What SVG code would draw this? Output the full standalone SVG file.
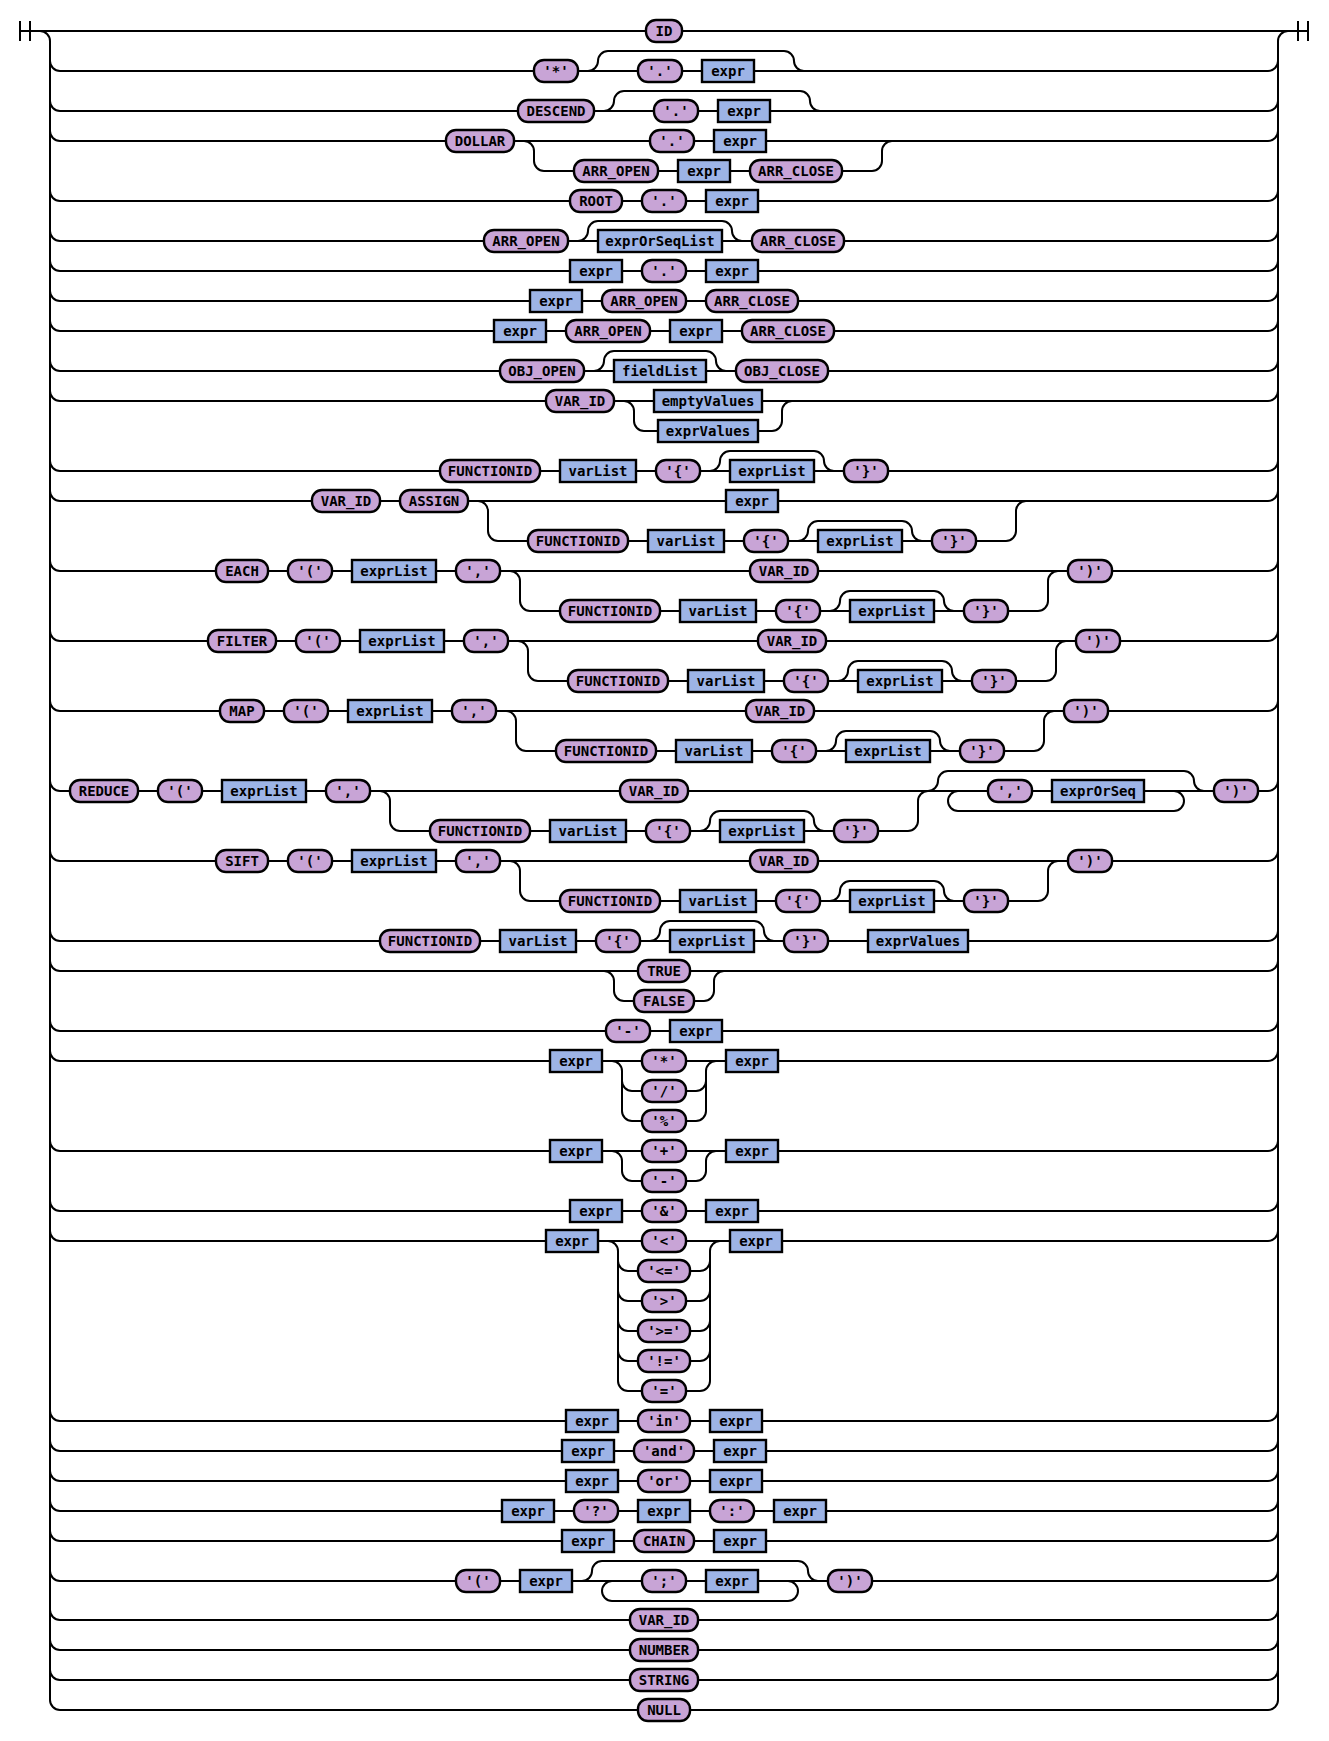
<svg xmlns="http://www.w3.org/2000/svg" width="1329" height="1741" viewBox="0 0 1329 1741">
<style>
.ln{fill:none;stroke:#000;stroke-width:2}
.t rect{fill:#C8A4D6;stroke:#000;stroke-width:2.4}
.n rect{fill:#9DB4E6;stroke:#000;stroke-width:2.4}
text{font-family:"DejaVu Sans Mono","Liberation Mono",monospace;font-weight:bold;font-size:14px;text-anchor:middle;fill:#000}
</style>
<rect width="1329" height="1741" fill="#fff"/>
<g id="connectors" class="ln">
<path d="M20 21v20M30 21v20M20 31H1308M1298 21v20M1308 21v20"/>
<path d="M40 31a10 10 0 0 1 10 10V1700M1278 1700V41a10 10 0 0 1 10 -10"/>
<path d="M50 61a10 10 0 0 0 10 10H1268a10 10 0 0 0 10 -10M50 101a10 10 0 0 0 10 10H1268a10 10 0 0 0 10 -10M50 131a10 10 0 0 0 10 10H1268a10 10 0 0 0 10 -10M50 191a10 10 0 0 0 10 10H1268a10 10 0 0 0 10 -10M50 231a10 10 0 0 0 10 10H1268a10 10 0 0 0 10 -10M50 261a10 10 0 0 0 10 10H1268a10 10 0 0 0 10 -10M50 291a10 10 0 0 0 10 10H1268a10 10 0 0 0 10 -10M50 321a10 10 0 0 0 10 10H1268a10 10 0 0 0 10 -10M50 361a10 10 0 0 0 10 10H1268a10 10 0 0 0 10 -10M50 391a10 10 0 0 0 10 10H1268a10 10 0 0 0 10 -10M50 461a10 10 0 0 0 10 10H1268a10 10 0 0 0 10 -10M50 491a10 10 0 0 0 10 10H1268a10 10 0 0 0 10 -10M50 561a10 10 0 0 0 10 10H1268a10 10 0 0 0 10 -10M50 631a10 10 0 0 0 10 10H1268a10 10 0 0 0 10 -10M50 701a10 10 0 0 0 10 10H1268a10 10 0 0 0 10 -10M50 781a10 10 0 0 0 10 10H1268a10 10 0 0 0 10 -10M50 851a10 10 0 0 0 10 10H1268a10 10 0 0 0 10 -10M50 931a10 10 0 0 0 10 10H1268a10 10 0 0 0 10 -10M50 961a10 10 0 0 0 10 10H1268a10 10 0 0 0 10 -10M50 1021a10 10 0 0 0 10 10H1268a10 10 0 0 0 10 -10M50 1051a10 10 0 0 0 10 10H1268a10 10 0 0 0 10 -10M50 1141a10 10 0 0 0 10 10H1268a10 10 0 0 0 10 -10M50 1201a10 10 0 0 0 10 10H1268a10 10 0 0 0 10 -10M50 1231a10 10 0 0 0 10 10H1268a10 10 0 0 0 10 -10M50 1411a10 10 0 0 0 10 10H1268a10 10 0 0 0 10 -10M50 1441a10 10 0 0 0 10 10H1268a10 10 0 0 0 10 -10M50 1471a10 10 0 0 0 10 10H1268a10 10 0 0 0 10 -10M50 1501a10 10 0 0 0 10 10H1268a10 10 0 0 0 10 -10M50 1531a10 10 0 0 0 10 10H1268a10 10 0 0 0 10 -10M50 1571a10 10 0 0 0 10 10H1268a10 10 0 0 0 10 -10M50 1610a10 10 0 0 0 10 10H1268a10 10 0 0 0 10 -10M50 1640a10 10 0 0 0 10 10H1268a10 10 0 0 0 10 -10M50 1670a10 10 0 0 0 10 10H1268a10 10 0 0 0 10 -10M50 1700a10 10 0 0 0 10 10H1268a10 10 0 0 0 10 -10"/>
<path d="M524 141a10 10 0 0 1 10 10V161a10 10 0 0 0 10 10H872a10 10 0 0 0 10 -10V151a10 10 0 0 1 10 -10"/>
<path d="M624 401a10 10 0 0 1 10 10V421a10 10 0 0 0 10 10H772a10 10 0 0 0 10 -10V411a10 10 0 0 1 10 -10"/>
<path d="M478 501a10 10 0 0 1 10 10V531a10 10 0 0 0 10 10H1006a10 10 0 0 0 10 -10V511a10 10 0 0 1 10 -10"/>
<path d="M510 571a10 10 0 0 1 10 10V601a10 10 0 0 0 10 10H1038a10 10 0 0 0 10 -10V581a10 10 0 0 1 10 -10"/>
<path d="M518 641a10 10 0 0 1 10 10V671a10 10 0 0 0 10 10H1046a10 10 0 0 0 10 -10V651a10 10 0 0 1 10 -10"/>
<path d="M506 711a10 10 0 0 1 10 10V741a10 10 0 0 0 10 10H1034a10 10 0 0 0 10 -10V721a10 10 0 0 1 10 -10"/>
<path d="M380 791a10 10 0 0 1 10 10V821a10 10 0 0 0 10 10H908a10 10 0 0 0 10 -10V801a10 10 0 0 1 10 -10"/>
<path d="M510 861a10 10 0 0 1 10 10V891a10 10 0 0 0 10 10H1038a10 10 0 0 0 10 -10V871a10 10 0 0 1 10 -10"/>
<path d="M604 971a10 10 0 0 1 10 10V991a10 10 0 0 0 10 10H704a10 10 0 0 0 10 -10V981a10 10 0 0 1 10 -10"/>
<path d="M612 1061a10 10 0 0 1 10 10V1081a10 10 0 0 0 10 10H696a10 10 0 0 0 10 -10V1071a10 10 0 0 1 10 -10M612 1061a10 10 0 0 1 10 10V1111a10 10 0 0 0 10 10H696a10 10 0 0 0 10 -10V1071a10 10 0 0 1 10 -10"/>
<path d="M612 1151a10 10 0 0 1 10 10V1171a10 10 0 0 0 10 10H696a10 10 0 0 0 10 -10V1161a10 10 0 0 1 10 -10"/>
<path d="M608 1241a10 10 0 0 1 10 10V1261a10 10 0 0 0 10 10H700a10 10 0 0 0 10 -10V1251a10 10 0 0 1 10 -10M608 1241a10 10 0 0 1 10 10V1291a10 10 0 0 0 10 10H700a10 10 0 0 0 10 -10V1251a10 10 0 0 1 10 -10M608 1241a10 10 0 0 1 10 10V1321a10 10 0 0 0 10 10H700a10 10 0 0 0 10 -10V1251a10 10 0 0 1 10 -10M608 1241a10 10 0 0 1 10 10V1351a10 10 0 0 0 10 10H700a10 10 0 0 0 10 -10V1251a10 10 0 0 1 10 -10M608 1241a10 10 0 0 1 10 10V1381a10 10 0 0 0 10 10H700a10 10 0 0 0 10 -10V1251a10 10 0 0 1 10 -10"/>
<path d="M588 71a10 10 0 0 0 10 -10a10 10 0 0 1 10 -10H784a10 10 0 0 1 10 10a10 10 0 0 0 10 10"/>
<path d="M604 111a10 10 0 0 0 10 -10a10 10 0 0 1 10 -10H800a10 10 0 0 1 10 10a10 10 0 0 0 10 10"/>
<path d="M578 241a10 10 0 0 0 10 -10a10 10 0 0 1 10 -10H722a10 10 0 0 1 10 10a10 10 0 0 0 10 10"/>
<path d="M594 371a10 10 0 0 0 10 -10a10 10 0 0 1 10 -10H706a10 10 0 0 1 10 10a10 10 0 0 0 10 10"/>
<path d="M710 471a10 10 0 0 0 10 -10a10 10 0 0 1 10 -10H814a10 10 0 0 1 10 10a10 10 0 0 0 10 10"/>
<path d="M798 541a10 10 0 0 0 10 -10a10 10 0 0 1 10 -10H902a10 10 0 0 1 10 10a10 10 0 0 0 10 10"/>
<path d="M830 611a10 10 0 0 0 10 -10a10 10 0 0 1 10 -10H934a10 10 0 0 1 10 10a10 10 0 0 0 10 10"/>
<path d="M838 681a10 10 0 0 0 10 -10a10 10 0 0 1 10 -10H942a10 10 0 0 1 10 10a10 10 0 0 0 10 10"/>
<path d="M826 751a10 10 0 0 0 10 -10a10 10 0 0 1 10 -10H930a10 10 0 0 1 10 10a10 10 0 0 0 10 10"/>
<path d="M700 831a10 10 0 0 0 10 -10a10 10 0 0 1 10 -10H804a10 10 0 0 1 10 10a10 10 0 0 0 10 10"/>
<path d="M928 791a10 10 0 0 0 10 -10a10 10 0 0 1 10 -10H1184a10 10 0 0 1 10 10a10 10 0 0 0 10 10"/>
<path d="M1174 791a10 10 0 0 1 10 10a10 10 0 0 1 -10 10H958a10 10 0 0 1 -10 -10a10 10 0 0 1 10 -10"/>
<path d="M830 901a10 10 0 0 0 10 -10a10 10 0 0 1 10 -10H934a10 10 0 0 1 10 10a10 10 0 0 0 10 10"/>
<path d="M650 941a10 10 0 0 0 10 -10a10 10 0 0 1 10 -10H754a10 10 0 0 1 10 10a10 10 0 0 0 10 10"/>
<path d="M582 1581a10 10 0 0 0 10 -10a10 10 0 0 1 10 -10H798a10 10 0 0 1 10 10a10 10 0 0 0 10 10"/>
<path d="M788 1581a10 10 0 0 1 10 10a10 10 0 0 1 -10 10H612a10 10 0 0 1 -10 -10a10 10 0 0 1 10 -10"/>
</g>
<g id="r01-ID" class="t"><rect x="646" y="20" width="36" height="22" rx="10"/><text x="664" y="36">ID</text></g>
<g id="r02-star" class="t"><rect x="534" y="60" width="44" height="22" rx="10"/><text x="556" y="76">'*'</text></g>
<g id="r02-dot" class="t"><rect x="638" y="60" width="44" height="22" rx="10"/><text x="660" y="76">'.'</text></g>
<g id="r02-expr" class="n"><rect x="702" y="60" width="52" height="22"/><text x="728" y="76">expr</text></g>
<g id="r03-DESCEND" class="t"><rect x="518" y="100" width="76" height="22" rx="10"/><text x="556" y="116">DESCEND</text></g>
<g id="r03-dot" class="t"><rect x="654" y="100" width="44" height="22" rx="10"/><text x="676" y="116">'.'</text></g>
<g id="r03-expr" class="n"><rect x="718" y="100" width="52" height="22"/><text x="744" y="116">expr</text></g>
<g id="r04-DOLLAR" class="t"><rect x="446" y="130" width="68" height="22" rx="10"/><text x="480" y="146">DOLLAR</text></g>
<g id="r04-dot" class="t"><rect x="650" y="130" width="44" height="22" rx="10"/><text x="672" y="146">'.'</text></g>
<g id="r04-expr" class="n"><rect x="714" y="130" width="52" height="22"/><text x="740" y="146">expr</text></g>
<g id="r04b-ARR_OPEN" class="t"><rect x="574" y="160" width="84" height="22" rx="10"/><text x="616" y="176">ARR_OPEN</text></g>
<g id="r04b-expr" class="n"><rect x="678" y="160" width="52" height="22"/><text x="704" y="176">expr</text></g>
<g id="r04b-ARR_CLOSE" class="t"><rect x="750" y="160" width="92" height="22" rx="10"/><text x="796" y="176">ARR_CLOSE</text></g>
<g id="r05-ROOT" class="t"><rect x="570" y="190" width="52" height="22" rx="10"/><text x="596" y="206">ROOT</text></g>
<g id="r05-dot" class="t"><rect x="642" y="190" width="44" height="22" rx="10"/><text x="664" y="206">'.'</text></g>
<g id="r05-expr" class="n"><rect x="706" y="190" width="52" height="22"/><text x="732" y="206">expr</text></g>
<g id="r06-ARR_OPEN" class="t"><rect x="484" y="230" width="84" height="22" rx="10"/><text x="526" y="246">ARR_OPEN</text></g>
<g id="r06-exprOrSeqList" class="n"><rect x="598" y="230" width="124" height="22"/><text x="660" y="246">exprOrSeqList</text></g>
<g id="r06-ARR_CLOSE" class="t"><rect x="752" y="230" width="92" height="22" rx="10"/><text x="798" y="246">ARR_CLOSE</text></g>
<g id="r07-expr1" class="n"><rect x="570" y="260" width="52" height="22"/><text x="596" y="276">expr</text></g>
<g id="r07-dot" class="t"><rect x="642" y="260" width="44" height="22" rx="10"/><text x="664" y="276">'.'</text></g>
<g id="r07-expr2" class="n"><rect x="706" y="260" width="52" height="22"/><text x="732" y="276">expr</text></g>
<g id="r08-expr" class="n"><rect x="530" y="290" width="52" height="22"/><text x="556" y="306">expr</text></g>
<g id="r08-ARR_OPEN" class="t"><rect x="602" y="290" width="84" height="22" rx="10"/><text x="644" y="306">ARR_OPEN</text></g>
<g id="r08-ARR_CLOSE" class="t"><rect x="706" y="290" width="92" height="22" rx="10"/><text x="752" y="306">ARR_CLOSE</text></g>
<g id="r09-expr1" class="n"><rect x="494" y="320" width="52" height="22"/><text x="520" y="336">expr</text></g>
<g id="r09-ARR_OPEN" class="t"><rect x="566" y="320" width="84" height="22" rx="10"/><text x="608" y="336">ARR_OPEN</text></g>
<g id="r09-expr2" class="n"><rect x="670" y="320" width="52" height="22"/><text x="696" y="336">expr</text></g>
<g id="r09-ARR_CLOSE" class="t"><rect x="742" y="320" width="92" height="22" rx="10"/><text x="788" y="336">ARR_CLOSE</text></g>
<g id="r10-OBJ_OPEN" class="t"><rect x="500" y="360" width="84" height="22" rx="10"/><text x="542" y="376">OBJ_OPEN</text></g>
<g id="r10-fieldList" class="n"><rect x="614" y="360" width="92" height="22"/><text x="660" y="376">fieldList</text></g>
<g id="r10-OBJ_CLOSE" class="t"><rect x="736" y="360" width="92" height="22" rx="10"/><text x="782" y="376">OBJ_CLOSE</text></g>
<g id="r11-VAR_ID" class="t"><rect x="546" y="390" width="68" height="22" rx="10"/><text x="580" y="406">VAR_ID</text></g>
<g id="r11-emptyValues" class="n"><rect x="654" y="390" width="108" height="22"/><text x="708" y="406">emptyValues</text></g>
<g id="r11-exprValues" class="n"><rect x="658" y="420" width="100" height="22"/><text x="708" y="436">exprValues</text></g>
<g id="r12-FUNCTIONID" class="t"><rect x="440" y="460" width="100" height="22" rx="10"/><text x="490" y="476">FUNCTIONID</text></g>
<g id="r12-varList" class="n"><rect x="560" y="460" width="76" height="22"/><text x="598" y="476">varList</text></g>
<g id="r12-lbrace" class="t"><rect x="656" y="460" width="44" height="22" rx="10"/><text x="678" y="476">'{'</text></g>
<g id="r12-exprList" class="n"><rect x="730" y="460" width="84" height="22"/><text x="772" y="476">exprList</text></g>
<g id="r12-rbrace" class="t"><rect x="844" y="460" width="44" height="22" rx="10"/><text x="866" y="476">'}'</text></g>
<g id="r13-VAR_ID" class="t"><rect x="312" y="490" width="68" height="22" rx="10"/><text x="346" y="506">VAR_ID</text></g>
<g id="r13-ASSIGN" class="t"><rect x="400" y="490" width="68" height="22" rx="10"/><text x="434" y="506">ASSIGN</text></g>
<g id="r13-expr" class="n"><rect x="726" y="490" width="52" height="22"/><text x="752" y="506">expr</text></g>
<g id="r13b-FUNCTIONID" class="t"><rect x="528" y="530" width="100" height="22" rx="10"/><text x="578" y="546">FUNCTIONID</text></g>
<g id="r13b-varList" class="n"><rect x="648" y="530" width="76" height="22"/><text x="686" y="546">varList</text></g>
<g id="r13b-lbrace" class="t"><rect x="744" y="530" width="44" height="22" rx="10"/><text x="766" y="546">'{'</text></g>
<g id="r13b-exprList" class="n"><rect x="818" y="530" width="84" height="22"/><text x="860" y="546">exprList</text></g>
<g id="r13b-rbrace" class="t"><rect x="932" y="530" width="44" height="22" rx="10"/><text x="954" y="546">'}'</text></g>
<g id="r14-EACH" class="t"><rect x="216" y="560" width="52" height="22" rx="10"/><text x="242" y="576">EACH</text></g>
<g id="r14-lparen" class="t"><rect x="288" y="560" width="44" height="22" rx="10"/><text x="310" y="576">'('</text></g>
<g id="r14-exprList" class="n"><rect x="352" y="560" width="84" height="22"/><text x="394" y="576">exprList</text></g>
<g id="r14-comma" class="t"><rect x="456" y="560" width="44" height="22" rx="10"/><text x="478" y="576">','</text></g>
<g id="r14-VAR_ID" class="t"><rect x="750" y="560" width="68" height="22" rx="10"/><text x="784" y="576">VAR_ID</text></g>
<g id="r14-rparen" class="t"><rect x="1068" y="560" width="44" height="22" rx="10"/><text x="1090" y="576">')'</text></g>
<g id="r14b-FUNCTIONID" class="t"><rect x="560" y="600" width="100" height="22" rx="10"/><text x="610" y="616">FUNCTIONID</text></g>
<g id="r14b-varList" class="n"><rect x="680" y="600" width="76" height="22"/><text x="718" y="616">varList</text></g>
<g id="r14b-lbrace" class="t"><rect x="776" y="600" width="44" height="22" rx="10"/><text x="798" y="616">'{'</text></g>
<g id="r14b-exprList" class="n"><rect x="850" y="600" width="84" height="22"/><text x="892" y="616">exprList</text></g>
<g id="r14b-rbrace" class="t"><rect x="964" y="600" width="44" height="22" rx="10"/><text x="986" y="616">'}'</text></g>
<g id="r15-FILTER" class="t"><rect x="208" y="630" width="68" height="22" rx="10"/><text x="242" y="646">FILTER</text></g>
<g id="r15-lparen" class="t"><rect x="296" y="630" width="44" height="22" rx="10"/><text x="318" y="646">'('</text></g>
<g id="r15-exprList" class="n"><rect x="360" y="630" width="84" height="22"/><text x="402" y="646">exprList</text></g>
<g id="r15-comma" class="t"><rect x="464" y="630" width="44" height="22" rx="10"/><text x="486" y="646">','</text></g>
<g id="r15-VAR_ID" class="t"><rect x="758" y="630" width="68" height="22" rx="10"/><text x="792" y="646">VAR_ID</text></g>
<g id="r15-rparen" class="t"><rect x="1076" y="630" width="44" height="22" rx="10"/><text x="1098" y="646">')'</text></g>
<g id="r15b-FUNCTIONID" class="t"><rect x="568" y="670" width="100" height="22" rx="10"/><text x="618" y="686">FUNCTIONID</text></g>
<g id="r15b-varList" class="n"><rect x="688" y="670" width="76" height="22"/><text x="726" y="686">varList</text></g>
<g id="r15b-lbrace" class="t"><rect x="784" y="670" width="44" height="22" rx="10"/><text x="806" y="686">'{'</text></g>
<g id="r15b-exprList" class="n"><rect x="858" y="670" width="84" height="22"/><text x="900" y="686">exprList</text></g>
<g id="r15b-rbrace" class="t"><rect x="972" y="670" width="44" height="22" rx="10"/><text x="994" y="686">'}'</text></g>
<g id="r16-MAP" class="t"><rect x="220" y="700" width="44" height="22" rx="10"/><text x="242" y="716">MAP</text></g>
<g id="r16-lparen" class="t"><rect x="284" y="700" width="44" height="22" rx="10"/><text x="306" y="716">'('</text></g>
<g id="r16-exprList" class="n"><rect x="348" y="700" width="84" height="22"/><text x="390" y="716">exprList</text></g>
<g id="r16-comma" class="t"><rect x="452" y="700" width="44" height="22" rx="10"/><text x="474" y="716">','</text></g>
<g id="r16-VAR_ID" class="t"><rect x="746" y="700" width="68" height="22" rx="10"/><text x="780" y="716">VAR_ID</text></g>
<g id="r16-rparen" class="t"><rect x="1064" y="700" width="44" height="22" rx="10"/><text x="1086" y="716">')'</text></g>
<g id="r16b-FUNCTIONID" class="t"><rect x="556" y="740" width="100" height="22" rx="10"/><text x="606" y="756">FUNCTIONID</text></g>
<g id="r16b-varList" class="n"><rect x="676" y="740" width="76" height="22"/><text x="714" y="756">varList</text></g>
<g id="r16b-lbrace" class="t"><rect x="772" y="740" width="44" height="22" rx="10"/><text x="794" y="756">'{'</text></g>
<g id="r16b-exprList" class="n"><rect x="846" y="740" width="84" height="22"/><text x="888" y="756">exprList</text></g>
<g id="r16b-rbrace" class="t"><rect x="960" y="740" width="44" height="22" rx="10"/><text x="982" y="756">'}'</text></g>
<g id="r17-REDUCE" class="t"><rect x="70" y="780" width="68" height="22" rx="10"/><text x="104" y="796">REDUCE</text></g>
<g id="r17-lparen" class="t"><rect x="158" y="780" width="44" height="22" rx="10"/><text x="180" y="796">'('</text></g>
<g id="r17-exprList" class="n"><rect x="222" y="780" width="84" height="22"/><text x="264" y="796">exprList</text></g>
<g id="r17-comma" class="t"><rect x="326" y="780" width="44" height="22" rx="10"/><text x="348" y="796">','</text></g>
<g id="r17-VAR_ID" class="t"><rect x="620" y="780" width="68" height="22" rx="10"/><text x="654" y="796">VAR_ID</text></g>
<g id="r17-comma2" class="t"><rect x="988" y="780" width="44" height="22" rx="10"/><text x="1010" y="796">','</text></g>
<g id="r17-exprOrSeq" class="n"><rect x="1052" y="780" width="92" height="22"/><text x="1098" y="796">exprOrSeq</text></g>
<g id="r17-rparen" class="t"><rect x="1214" y="780" width="44" height="22" rx="10"/><text x="1236" y="796">')'</text></g>
<g id="r17b-FUNCTIONID" class="t"><rect x="430" y="820" width="100" height="22" rx="10"/><text x="480" y="836">FUNCTIONID</text></g>
<g id="r17b-varList" class="n"><rect x="550" y="820" width="76" height="22"/><text x="588" y="836">varList</text></g>
<g id="r17b-lbrace" class="t"><rect x="646" y="820" width="44" height="22" rx="10"/><text x="668" y="836">'{'</text></g>
<g id="r17b-exprList" class="n"><rect x="720" y="820" width="84" height="22"/><text x="762" y="836">exprList</text></g>
<g id="r17b-rbrace" class="t"><rect x="834" y="820" width="44" height="22" rx="10"/><text x="856" y="836">'}'</text></g>
<g id="r18-SIFT" class="t"><rect x="216" y="850" width="52" height="22" rx="10"/><text x="242" y="866">SIFT</text></g>
<g id="r18-lparen" class="t"><rect x="288" y="850" width="44" height="22" rx="10"/><text x="310" y="866">'('</text></g>
<g id="r18-exprList" class="n"><rect x="352" y="850" width="84" height="22"/><text x="394" y="866">exprList</text></g>
<g id="r18-comma" class="t"><rect x="456" y="850" width="44" height="22" rx="10"/><text x="478" y="866">','</text></g>
<g id="r18-VAR_ID" class="t"><rect x="750" y="850" width="68" height="22" rx="10"/><text x="784" y="866">VAR_ID</text></g>
<g id="r18-rparen" class="t"><rect x="1068" y="850" width="44" height="22" rx="10"/><text x="1090" y="866">')'</text></g>
<g id="r18b-FUNCTIONID" class="t"><rect x="560" y="890" width="100" height="22" rx="10"/><text x="610" y="906">FUNCTIONID</text></g>
<g id="r18b-varList" class="n"><rect x="680" y="890" width="76" height="22"/><text x="718" y="906">varList</text></g>
<g id="r18b-lbrace" class="t"><rect x="776" y="890" width="44" height="22" rx="10"/><text x="798" y="906">'{'</text></g>
<g id="r18b-exprList" class="n"><rect x="850" y="890" width="84" height="22"/><text x="892" y="906">exprList</text></g>
<g id="r18b-rbrace" class="t"><rect x="964" y="890" width="44" height="22" rx="10"/><text x="986" y="906">'}'</text></g>
<g id="r19-FUNCTIONID" class="t"><rect x="380" y="930" width="100" height="22" rx="10"/><text x="430" y="946">FUNCTIONID</text></g>
<g id="r19-varList" class="n"><rect x="500" y="930" width="76" height="22"/><text x="538" y="946">varList</text></g>
<g id="r19-lbrace" class="t"><rect x="596" y="930" width="44" height="22" rx="10"/><text x="618" y="946">'{'</text></g>
<g id="r19-exprList" class="n"><rect x="670" y="930" width="84" height="22"/><text x="712" y="946">exprList</text></g>
<g id="r19-rbrace" class="t"><rect x="784" y="930" width="44" height="22" rx="10"/><text x="806" y="946">'}'</text></g>
<g id="r19-exprValues" class="n"><rect x="868" y="930" width="100" height="22"/><text x="918" y="946">exprValues</text></g>
<g id="r20-TRUE" class="t"><rect x="638" y="960" width="52" height="22" rx="10"/><text x="664" y="976">TRUE</text></g>
<g id="r20-FALSE" class="t"><rect x="634" y="990" width="60" height="22" rx="10"/><text x="664" y="1006">FALSE</text></g>
<g id="r21-minus" class="t"><rect x="606" y="1020" width="44" height="22" rx="10"/><text x="628" y="1036">'-'</text></g>
<g id="r21-expr" class="n"><rect x="670" y="1020" width="52" height="22"/><text x="696" y="1036">expr</text></g>
<g id="r22-expr1" class="n"><rect x="550" y="1050" width="52" height="22"/><text x="576" y="1066">expr</text></g>
<g id="r22-mul" class="t"><rect x="642" y="1050" width="44" height="22" rx="10"/><text x="664" y="1066">'*'</text></g>
<g id="r22-div" class="t"><rect x="642" y="1080" width="44" height="22" rx="10"/><text x="664" y="1096">'/'</text></g>
<g id="r22-mod" class="t"><rect x="642" y="1110" width="44" height="22" rx="10"/><text x="664" y="1126">'%'</text></g>
<g id="r22-expr2" class="n"><rect x="726" y="1050" width="52" height="22"/><text x="752" y="1066">expr</text></g>
<g id="r23-expr1" class="n"><rect x="550" y="1140" width="52" height="22"/><text x="576" y="1156">expr</text></g>
<g id="r23-plus" class="t"><rect x="642" y="1140" width="44" height="22" rx="10"/><text x="664" y="1156">'+'</text></g>
<g id="r23-minus" class="t"><rect x="642" y="1170" width="44" height="22" rx="10"/><text x="664" y="1186">'-'</text></g>
<g id="r23-expr2" class="n"><rect x="726" y="1140" width="52" height="22"/><text x="752" y="1156">expr</text></g>
<g id="r24-expr1" class="n"><rect x="570" y="1200" width="52" height="22"/><text x="596" y="1216">expr</text></g>
<g id="r24-amp" class="t"><rect x="642" y="1200" width="44" height="22" rx="10"/><text x="664" y="1216">'&amp;'</text></g>
<g id="r24-expr2" class="n"><rect x="706" y="1200" width="52" height="22"/><text x="732" y="1216">expr</text></g>
<g id="r25-expr1" class="n"><rect x="546" y="1230" width="52" height="22"/><text x="572" y="1246">expr</text></g>
<g id="r25-lt" class="t"><rect x="642" y="1230" width="44" height="22" rx="10"/><text x="664" y="1246">'&lt;'</text></g>
<g id="r25-le" class="t"><rect x="638" y="1260" width="52" height="22" rx="10"/><text x="664" y="1276">'&lt;='</text></g>
<g id="r25-gt" class="t"><rect x="642" y="1290" width="44" height="22" rx="10"/><text x="664" y="1306">'&gt;'</text></g>
<g id="r25-ge" class="t"><rect x="638" y="1320" width="52" height="22" rx="10"/><text x="664" y="1336">'&gt;='</text></g>
<g id="r25-ne" class="t"><rect x="638" y="1350" width="52" height="22" rx="10"/><text x="664" y="1366">'!='</text></g>
<g id="r25-eq" class="t"><rect x="642" y="1380" width="44" height="22" rx="10"/><text x="664" y="1396">'='</text></g>
<g id="r25-expr2" class="n"><rect x="730" y="1230" width="52" height="22"/><text x="756" y="1246">expr</text></g>
<g id="r26-expr1" class="n"><rect x="566" y="1410" width="52" height="22"/><text x="592" y="1426">expr</text></g>
<g id="r26-in" class="t"><rect x="638" y="1410" width="52" height="22" rx="10"/><text x="664" y="1426">'in'</text></g>
<g id="r26-expr2" class="n"><rect x="710" y="1410" width="52" height="22"/><text x="736" y="1426">expr</text></g>
<g id="r27-expr1" class="n"><rect x="562" y="1440" width="52" height="22"/><text x="588" y="1456">expr</text></g>
<g id="r27-and" class="t"><rect x="634" y="1440" width="60" height="22" rx="10"/><text x="664" y="1456">'and'</text></g>
<g id="r27-expr2" class="n"><rect x="714" y="1440" width="52" height="22"/><text x="740" y="1456">expr</text></g>
<g id="r28-expr1" class="n"><rect x="566" y="1470" width="52" height="22"/><text x="592" y="1486">expr</text></g>
<g id="r28-or" class="t"><rect x="638" y="1470" width="52" height="22" rx="10"/><text x="664" y="1486">'or'</text></g>
<g id="r28-expr2" class="n"><rect x="710" y="1470" width="52" height="22"/><text x="736" y="1486">expr</text></g>
<g id="r29-expr1" class="n"><rect x="502" y="1500" width="52" height="22"/><text x="528" y="1516">expr</text></g>
<g id="r29-q" class="t"><rect x="574" y="1500" width="44" height="22" rx="10"/><text x="596" y="1516">'?'</text></g>
<g id="r29-expr2" class="n"><rect x="638" y="1500" width="52" height="22"/><text x="664" y="1516">expr</text></g>
<g id="r29-colon" class="t"><rect x="710" y="1500" width="44" height="22" rx="10"/><text x="732" y="1516">':'</text></g>
<g id="r29-expr3" class="n"><rect x="774" y="1500" width="52" height="22"/><text x="800" y="1516">expr</text></g>
<g id="r30-expr1" class="n"><rect x="562" y="1530" width="52" height="22"/><text x="588" y="1546">expr</text></g>
<g id="r30-CHAIN" class="t"><rect x="634" y="1530" width="60" height="22" rx="10"/><text x="664" y="1546">CHAIN</text></g>
<g id="r30-expr2" class="n"><rect x="714" y="1530" width="52" height="22"/><text x="740" y="1546">expr</text></g>
<g id="r31-lparen" class="t"><rect x="456" y="1570" width="44" height="22" rx="10"/><text x="478" y="1586">'('</text></g>
<g id="r31-expr1" class="n"><rect x="520" y="1570" width="52" height="22"/><text x="546" y="1586">expr</text></g>
<g id="r31-semi" class="t"><rect x="642" y="1570" width="44" height="22" rx="10"/><text x="664" y="1586">';'</text></g>
<g id="r31-expr2" class="n"><rect x="706" y="1570" width="52" height="22"/><text x="732" y="1586">expr</text></g>
<g id="r31-rparen" class="t"><rect x="828" y="1570" width="44" height="22" rx="10"/><text x="850" y="1586">')'</text></g>
<g id="r32-VAR_ID" class="t"><rect x="630" y="1609" width="68" height="22" rx="10"/><text x="664" y="1625">VAR_ID</text></g>
<g id="r33-NUMBER" class="t"><rect x="630" y="1639" width="68" height="22" rx="10"/><text x="664" y="1655">NUMBER</text></g>
<g id="r34-STRING" class="t"><rect x="630" y="1669" width="68" height="22" rx="10"/><text x="664" y="1685">STRING</text></g>
<g id="r35-NULL" class="t"><rect x="638" y="1699" width="52" height="22" rx="10"/><text x="664" y="1715">NULL</text></g>
</svg>
